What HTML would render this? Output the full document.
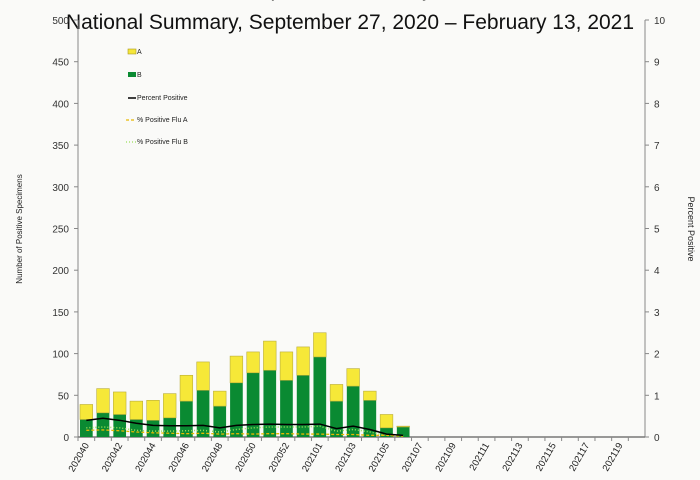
<!DOCTYPE html>
<html><head><meta charset="utf-8"><style>
body{margin:0;background:#fafaf8;}
svg{display:block;font-family:"Liberation Sans",sans-serif;}
</style></head><body>
<svg width="700" height="480" id="c">
<text x="350" y="-4" text-anchor="middle" font-size="21" fill="#111">Influenza Positive Tests Reported to CDC by U.S. Clinical Laboratories,</text>
<text x="350" y="29" text-anchor="middle" font-size="21" fill="#111">National Summary, September 27, 2020 – February 13, 2021</text>
<text transform="translate(22,229) rotate(-90)" text-anchor="middle" font-size="8" fill="#222">Number of Positive Specimens</text>
<text transform="translate(688,229) rotate(90)" text-anchor="middle" font-size="9" fill="#222">Percent Positive</text>
<g id="g"></g>
<g font-size="7" fill="#222">
<rect x="128" y="49" width="8" height="5" fill="#f5e63a" stroke="#a99a20" stroke-width="0.6"/><text x="137" y="54">A</text>
<rect x="128" y="72" width="8" height="5" fill="#0a8a32"/><text x="137" y="77">B</text>
<line x1="128" y1="98" x2="136" y2="98" stroke="#000" stroke-width="1.5"/><text x="137" y="100">Percent Positive</text>
<line x1="126" y1="120" x2="136" y2="120" stroke="#e8b800" stroke-width="1.2" stroke-dasharray="3,2"/><text x="137" y="122">% Positive Flu A</text>
<line x1="126" y1="142" x2="136" y2="142" stroke="#9adf5a" stroke-width="1.2" stroke-dasharray="1,2"/><text x="137" y="144">% Positive Flu B</text>
</g>
</svg>
<script>
const weeks=["202040","202041","202042","202043","202044","202045","202046","202047","202048","202049","202050","202051","202052","202053","202101","202102","202103","202104","202105","202106","202107","202108","202109","202110","202111","202112","202113","202114","202115","202116","202117","202118","202119","202120"];
const fluB=[21,29,27,21,20,23,43,56,37,65,77,80,68,74,96,43,61,44,11,12];
const fluA=[18,29,27,22,24,29,31,34,18,32,25,35,34,34,29,20,21,11,16,1];
const pctPos=[0.40,0.45,0.40,0.33,0.28,0.27,0.27,0.28,0.22,0.28,0.30,0.31,0.30,0.30,0.31,0.20,0.26,0.18,0.07,0.04];
const pctA=[0.16,0.17,0.15,0.12,0.10,0.09,0.08,0.09,0.07,0.08,0.07,0.08,0.08,0.07,0.07,0.06,0.06,0.04,0.04,0.02];
const pctB=[0.22,0.24,0.22,0.16,0.14,0.14,0.15,0.16,0.12,0.18,0.22,0.24,0.24,0.24,0.26,0.14,0.18,0.12,0.04,0.03];
const yTicks=[0,50,100,150,200,250,300,350,400,450,500];
const y2Ticks=[0,1,2,3,4,5,6,7,8,9,10];
const L=78,R=645,T=20,B=437,NS="http://www.w3.org/2000/svg";
const bw=(R-L)/weeks.length;
const x=i=>L+i*bw, y=v=>B-v/500*(B-T), y2=v=>B-v/10*(B-T);
const g=document.getElementById('g');
function mk(t,a){const e=document.createElementNS(NS,t);for(const k in a)e.setAttribute(k,a[k]);g.appendChild(e);return e;}
let e=mk('line',{x1:L,y1:T,x2:L,y2:B,stroke:'#888'});


e=mk('line',{x1:R,y1:T,x2:R,y2:B,stroke:'#888'});


e=mk('line',{x1:L,y1:B,x2:R,y2:B,stroke:'#777','stroke-width':1.5});


yTicks.forEach(v=>{mk('line',{x1:L-4,y1:y(v),x2:L,y2:y(v),stroke:'#888'});
 const t=mk('text',{x:L-9,y:y(v)+4,'text-anchor':'end','font-size':10,fill:'#333'});t.textContent=v;
 
 });
y2Ticks.forEach(v=>{mk('line',{x1:R,y1:y2(v),x2:R+4,y2:y2(v),stroke:'#888'});
 const t=mk('text',{x:R+9,y:y2(v)+4,'font-size':10,fill:'#333'});t.textContent=v;
 
 });
weeks.forEach((w,i)=>{mk('line',{x1:x(i),y1:B,x2:x(i),y2:B+4,stroke:'#888'});
 if(i%2==0){const cx=x(i)+bw/2+3;const t=mk('text',{transform:`translate(${cx},${B+8}) rotate(-60)`,'text-anchor':'end','font-size':9.5,fill:'#222'});t.textContent=w;
 
 }});
const pad=bw*0.12;
fluB.forEach((b,i)=>{const a=fluA[i];
 let r=mk('rect',{x:x(i)+pad,y:y(b),width:bw-2*pad,height:B-y(b),fill:'#0a8a32'});
 
 
 r=mk('rect',{x:x(i)+pad,y:y(a+b),width:bw-2*pad,height:y(b)-y(a+b),fill:'#f6e838',stroke:'#b9ad3a','stroke-width':0.6});
 
 });
function line(arr,st,name){const p=arr.map((v,i)=>(i?'L':'M')+(x(i)+bw/2)+','+y2(v)).join('');
 const l=mk('path',Object.assign({d:p,fill:'none'},st));
 
 }
line(pctB,{stroke:'#9adf5a','stroke-width':1.5,'stroke-dasharray':'1,2'},'line-pct-flu-b');
line(pctA,{stroke:'#e8b800','stroke-width':1.3,'stroke-dasharray':'3,2'},'line-pct-flu-a');
line(pctPos,{stroke:'#000','stroke-width':1.5},'line-percent-positive');
</script>
</body></html>
